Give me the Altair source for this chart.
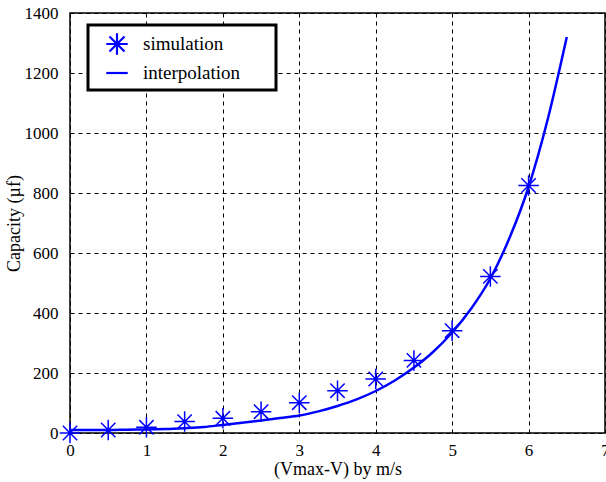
import altair as alt
import pandas as pd

# simulation points
sim_x = [0, 0.5, 1, 1.5, 2, 2.5, 3, 3.5, 4, 4.5, 5, 5.5, 6]
sim_y = [0, 10, 19, 38, 49, 71, 101, 141, 180, 242, 341, 522, 825]

# interpolation curve
int_x = [0, 0.25, 0.5, 0.75, 1, 1.25, 1.5, 1.75, 2, 2.25, 2.5, 2.75, 3, 3.25,
         3.5, 3.75, 4, 4.25, 4.5, 4.75, 5, 5.25, 5.5, 5.75, 6, 6.25, 6.5]
int_y = [10, 10, 10, 11, 12, 13, 16, 20, 27, 34, 42, 50, 58, 72,
         90, 112, 140, 175, 218, 270, 335, 415, 515, 650, 820, 1045, 1320]

x_ticks = [0, 1, 2, 3, 4, 5, 6, 7]
y_ticks = [0, 200, 400, 600, 800, 1000, 1200, 1400]
series = ["simulation", "interpolation"]

ASTERISK = "M-1,0L1,0M0,-1L0,1M-0.7,-0.7L0.7,0.7M-0.7,0.7L0.7,-0.7"

sim_df = pd.DataFrame({"x": sim_x, "y": sim_y, "kind": "simulation"})
int_df = pd.DataFrame({"x": int_x, "y": int_y})

FONT = "Times New Roman, Liberation Serif, serif"

xs = alt.Scale(domain=[0, 7], nice=False)
ys = alt.Scale(domain=[0, 1400], nice=False)

xaxis = alt.Axis(values=x_ticks, format="d", title="(Vmax-V) by m/s", ticks=False,
                 domain=False, labelFlush=False, labelPadding=9, titlePadding=2)
yaxis = alt.Axis(values=y_ticks, format="d", title="Capacity (µf)", ticks=False,
                 domain=False, labelPadding=12, titlePadding=1)

line = alt.Chart(int_df).mark_line(color="#0000FF", strokeWidth=2.5,
                                   interpolate="monotone").encode(
    x=alt.X("x:Q", scale=xs, axis=xaxis),
    y=alt.Y("y:Q", scale=ys, axis=yaxis),
)

pts = alt.Chart(sim_df).mark_point(filled=False, strokeWidth=1.5, size=420, opacity=1,
                                   color="#0000FF").encode(
    x=alt.X("x:Q", scale=xs),
    y=alt.Y("y:Q", scale=ys),
    shape=alt.Shape("kind:N",
                    scale=alt.Scale(domain=series, range=[ASTERISK, "stroke"]),
                    legend=alt.Legend(
                        title=None, orient="none", legendX=18, legendY=12,
                        strokeColor="black", fillColor="white",
                        padding=7, labelFontSize=19, labelFont=FONT,
                        labelExpr="datum.label + '\u2800\u2800'",
                        symbolSize=460, symbolStrokeColor="#0000FF",
                        symbolStrokeWidth=2.2, symbolFillColor="transparent",
                        labelOffset=14, rowPadding=1, symbolOffset=10,
                        labelLimit=400)),
)

chart = alt.layer(line, pts).properties(
    width=535, height=420,
    autosize=alt.AutoSizeParams(type="none"),
    padding={"left": 70, "top": 13, "right": 1, "bottom": 49},
    background="white",
).configure(
    font=FONT
).configure_view(
    stroke="black", strokeWidth=1.5
).configure_legend(
    strokeWidth=3
).configure_axis(
    grid=True, gridColor="black", gridDash=[4, 4], gridOpacity=1, gridWidth=1,
    labelFont=FONT, titleFont=FONT, labelFontSize=17, titleFontSize=18,
    labelColor="black", titleColor="black", titleFontWeight="normal",
)

chart.save("out.html", embed_options={"renderer": "svg", "actions": False})
